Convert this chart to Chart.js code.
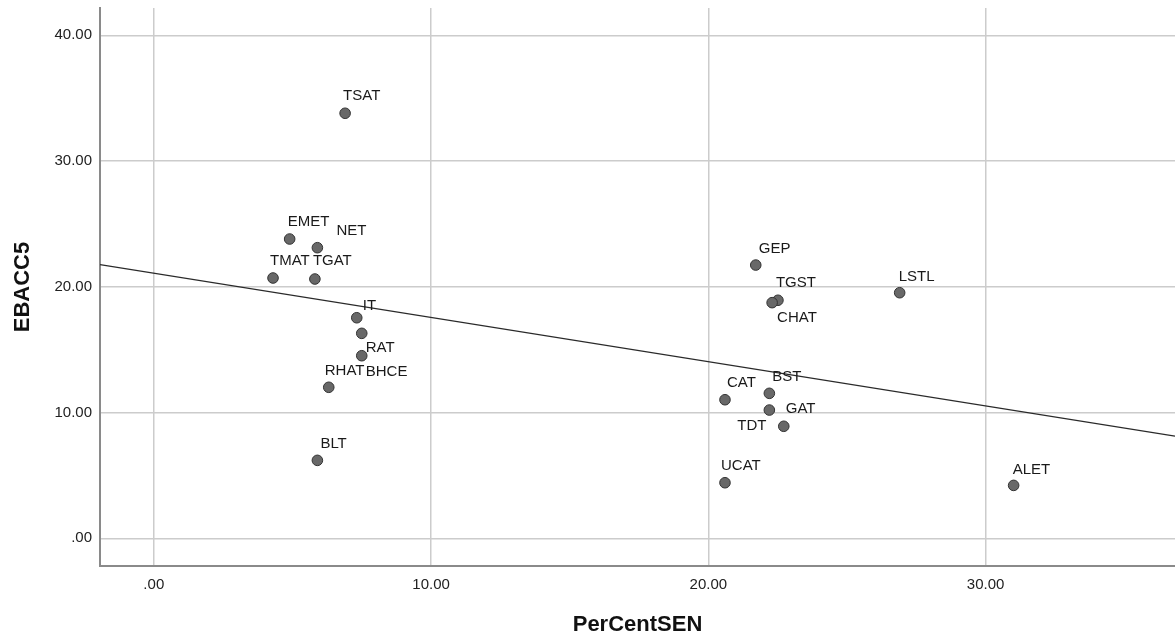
<!DOCTYPE html>
<html>
<head>
<meta charset="utf-8">
<script src="https://cdn.jsdelivr.net/npm/chart.js@4/dist/chart.umd.min.js"></script>
<style>
  html, body { margin: 0; padding: 0; background: #ffffff; overflow: hidden; }
  #wrap { width: 1175px; height: 638px; }
  canvas { display: block; }
</style>
</head>
<body>
<div id="wrap"><canvas id="c" width="1175" height="638"></canvas></div>
<script>
// ---- data ----
const schoolLabels = ['TSAT','EMET','NET','TMAT','TGAT','IT','RAT','BHCE','RHAT','BLT',
                      'GEP','TGST','CHAT','LSTL','CAT','BST','TDT','GAT','UCAT','ALET'];
const perCentSEN   = [6.90, 4.90, 5.90, 4.30, 5.81, 7.32, 7.50, 7.50, 6.31, 5.90,
                      21.71, 22.51, 22.30, 26.90, 20.60, 22.20, 22.20, 22.72, 20.60, 31.01];
const ebacc5       = [33.80, 23.80, 23.11, 20.70, 20.62, 17.54, 16.30, 14.52, 12.01, 6.20,
                      21.73, 18.93, 18.74, 19.53, 11.02, 11.53, 10.20, 8.91, 4.42, 4.21];
const xTickValues  = [0, 10, 20, 30];
const xTickLabels  = ['.00', '10.00', '20.00', '30.00'];
const yTickValues  = [0, 10, 20, 30, 40];
const yTickLabels  = ['.00', '10.00', '20.00', '30.00', '40.00'];
const xTitle = 'PerCentSEN';
const yTitle = 'EBACC5';

// ---- styling: label offsets (px) relative to each point ----
const labelOffsets = [[-2,-17],[-2,-17],[19,-17],[-3,-17],[-2,-18],[6,-12],[4,15],[4,16],[-4,-16],[3,-17],
                      [3,-16],[-2,-17],[5,15],[-1,-16],[2,-17],[3,-16],[-32,16],[2,-17],[-4,-17],[-1,-16]];

const X_MIN = -1.94, X_MAX = 36.83, Y_MIN = -2.2, Y_MAX = 42.17;

// least-squares fit line through the data
const n = perCentSEN.length;
const mx = perCentSEN.reduce((a,b)=>a+b,0)/n;
const my = ebacc5.reduce((a,b)=>a+b,0)/n;
let sxy = 0, sxx = 0;
for (let i = 0; i < n; i++) { sxy += (perCentSEN[i]-mx)*(ebacc5[i]-my); sxx += (perCentSEN[i]-mx)**2; }
const slope = sxy/sxx, intercept = my - slope*mx;

const points = perCentSEN.map((x,i)=>({x:x, y:ebacc5[i]}));
const fitLine = [{x:X_MIN, y:intercept + slope*X_MIN}, {x:X_MAX, y:intercept + slope*X_MAX}];

const FONT = "'Liberation Sans', Arial, Helvetica, sans-serif";

const labelPlugin = {
  id: 'pointLabels',
  afterDatasetsDraw(chart) {
    const meta = chart.getDatasetMeta(1);
    const ctx = chart.ctx;
    ctx.save();
    ctx.font = '15px ' + FONT;
    ctx.fillStyle = '#1a1a1a';
    ctx.textAlign = 'left';
    ctx.textBaseline = 'middle';
    meta.data.forEach((el, i) => {
      const off = labelOffsets[i];
      ctx.fillText(schoolLabels[i], el.x + off[0], el.y + off[1]);
    });
    ctx.restore();
  }
};

new Chart(document.getElementById('c'), {
  type: 'scatter',
  data: {
    datasets: [
      {
        data: fitLine, showLine: true, pointRadius: 0, borderColor: '#2a2a2a',
        borderWidth: 1.3, fill: false, order: 2
      },
      {
        data: points, pointRadius: 5.3, pointHoverRadius: 5.3,
        backgroundColor: '#686868', borderColor: '#333333', borderWidth: 1, order: 1
      }
    ]
  },
  options: {
    responsive: false,
    animation: false,
    events: [],
    layout: { autoPadding: false, padding: { top: 8, right: 0, left: 0, bottom: 0 } },
    plugins: { legend: { display: false }, tooltip: { enabled: false } },
    scales: {
      x: {
        type: 'linear', min: X_MIN, max: X_MAX,
        afterBuildTicks: s => { s.ticks = xTickValues.map(v => ({value: v})); },
        afterFit: s => { s.height = 72; s.paddingLeft = 0; s.paddingRight = 0; },
        ticks: {
          callback: (v) => xTickLabels[xTickValues.indexOf(v)],
          font: { family: FONT, size: 15 }, color: '#222222', padding: 10, maxRotation: 0
        },
        grid: { color: '#cccccc', lineWidth: 1.5, drawTicks: false },
        border: { color: '#8a8a8a', width: 2 },
        title: { display: true, text: xTitle, font: { family: FONT, size: 22, weight: 'bold' },
                 color: '#111111', padding: { top: 0, bottom: 0 } }
      },
      y: {
        type: 'linear', min: Y_MIN, max: Y_MAX,
        afterBuildTicks: s => { s.ticks = yTickValues.map(v => ({value: v})); },
        afterFit: s => { s.width = 100; s.paddingTop = 0; s.paddingBottom = 0; },
        ticks: {
          callback: (v) => yTickLabels[yTickValues.indexOf(v)],
          font: { family: FONT, size: 15 }, color: '#222222', padding: 8
        },
        grid: { color: '#cccccc', lineWidth: 1.5, drawTicks: false },
        border: { color: '#8a8a8a', width: 2 },
        title: { display: true, text: yTitle, font: { family: FONT, size: 22, weight: 'bold' },
                 color: '#111111', padding: { top: 10, bottom: 0 } }
      }
    }
  },
  plugins: [labelPlugin]
});
</script>
</body>
</html>
